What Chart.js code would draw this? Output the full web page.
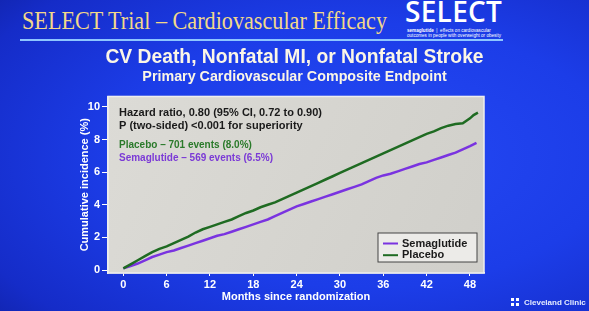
<!DOCTYPE html>
<html><head><meta charset="utf-8">
<script src="https://cdn.jsdelivr.net/npm/chart.js@4.4.1/dist/chart.umd.min.js"></script>
<style>
html,body{margin:0;padding:0;width:589px;height:311px;overflow:hidden;}
body{position:relative;font-family:"Liberation Sans",Arial,sans-serif;
 background:radial-gradient(ellipse 85% 85% at 62% 50%, #2549f4 0%, #1c3de8 50%, #152cc8 85%, #1022a8 100%);}
#slideTitle{position:absolute;left:22px;top:6px;font-family:"Liberation Serif","Times New Roman",serif;font-size:25px;color:#f2d889;white-space:nowrap;line-height:30px;transform:scaleX(0.887);transform-origin:0 0;}
#rule{position:absolute;left:20px;top:39px;width:483px;height:2px;background:#8ec6ff;}
#logo{position:absolute;left:405px;top:-4px;color:#fff;}
#logo .big{font-family:"Open Sans",sans-serif;font-size:28px;font-weight:600;line-height:30px;letter-spacing:0.3px;}
#logo .small{font-family:"Liberation Sans",Arial,sans-serif;font-size:4.6px;line-height:5.2px;white-space:nowrap;margin-left:2px;}
#logo .small.first{margin-top:2px;}
#chartBox{position:absolute;left:0;top:0;width:589px;height:311px;}
#cc{position:absolute;left:511px;top:298px;color:#e6ecff;font-weight:bold;font-size:8px;white-space:nowrap;line-height:10px;}
#cc span.icon{display:inline-block;width:8px;height:8px;background:#fff;vertical-align:-1px;margin-right:5px;position:relative;}
#cc span.icon:before{content:"";position:absolute;left:3px;top:0;width:2px;height:8px;background:#1c3de8;}
#cc span.icon:after{content:"";position:absolute;left:0;top:3px;width:8px;height:2px;background:#1c3de8;}
</style></head>
<body>
<div id="slideTitle">SELECT Trial – Cardiovascular Efficacy</div>
<div id="rule"></div>
<div id="logo"><div class="big">SELECT</div>
<div class="small first"><b>semaglutide</b> &nbsp;|&nbsp; effects on cardiovascular</div>
<div class="small">outcomes in people with overweight or obesity</div></div>
<div id="chartBox"><canvas id="c" width="589" height="311"></canvas></div>
<div id="cc"><span class="icon"></span>Cleveland Clinic</div>
<script>
// ---- data ----
const seriesNames = ['Semaglutide', 'Placebo'];
const semaMonths = [0,1,2,3,4,5,6,7,8,9,10,11,12,13,14,15,16,17,18,19,20,21,22,23,24,25,26,27,28,29,30,31,32,33,34,35,36,37,38,39,40,41,42,43,44,45,46,47,48,48.9];
const semaglutide = [0.1,0.25,0.4,0.6,0.8,0.95,1.1,1.2,1.35,1.5,1.65,1.8,1.95,2.1,2.2,2.35,2.5,2.65,2.8,2.95,3.1,3.3,3.5,3.7,3.9,4.05,4.2,4.35,4.5,4.65,4.8,4.95,5.1,5.25,5.45,5.65,5.8,5.9,6.05,6.2,6.35,6.5,6.6,6.75,6.9,7.05,7.2,7.4,7.6,7.8];
const placeboMonths = [0,1,2,3,4,5,6,7,8,9,10,11,12,13,14,15,16,17,18,19,20,21,22,23,24,25,26,27,28,29,30,31,32,33,34,35,36,37,38,39,40,41,42,43,44,45,46,47,48,48.5,49.1];
const placebo = [0.1,0.35,0.6,0.85,1.1,1.3,1.45,1.65,1.85,2.05,2.3,2.5,2.65,2.8,2.95,3.1,3.3,3.5,3.65,3.85,4.0,4.15,4.35,4.55,4.75,4.95,5.15,5.35,5.55,5.75,5.95,6.15,6.35,6.55,6.75,6.95,7.15,7.35,7.55,7.75,7.95,8.15,8.35,8.5,8.7,8.85,8.95,9.0,9.3,9.5,9.65];
const xTickValues = [0,6,12,18,24,30,36,42,48];
const yTickValues = [0,2,4,6,8,10];
const chartTitle = 'CV Death, Nonfatal MI, or Nonfatal Stroke';
const chartSubtitle = 'Primary Cardiovascular Composite Endpoint';
const xTitle = 'Months since randomization';
const yTitle = 'Cumulative incidence (%)';
const statLines = ['Hazard ratio, 0.80 (95% CI, 0.72 to 0.90)', 'P (two-sided) <0.001 for superiority'];
const eventLines = ['Placebo – 701 events (8.0%)', 'Semaglutide – 569 events (6.5%)'];

const SEMA_COLOR = '#7a33e0';
const PLAC_COLOR = '#1f6b22';
const FONT = '"Liberation Sans", Arial, sans-serif';

const panelPlugin = {
  id: 'panel',
  beforeDatasetsDraw(chart) {
    const {ctx, chartArea: a} = chart;
    ctx.save();
    const g = ctx.createLinearGradient(a.left, a.top, a.right, a.bottom);
    g.addColorStop(0, '#dcdbd6');
    g.addColorStop(1, '#d0cfca');
    ctx.fillStyle = g;
    ctx.fillRect(a.left, a.top, a.right - a.left, a.bottom - a.top);
    ctx.strokeStyle = '#eeeeee';
    ctx.lineWidth = 1.5;
    ctx.strokeRect(a.left, a.top, a.right - a.left, a.bottom - a.top);
    ctx.textBaseline = 'middle';
    ctx.textAlign = 'left';
    ctx.font = 'bold 11px ' + FONT;
    ctx.fillStyle = '#1a1a1a';
    ctx.fillText(statLines[0], a.left + 11, a.top + 17);
    ctx.fillText(statLines[1], a.left + 11, a.top + 29.5);
    ctx.font = 'bold 10px ' + FONT;
    ctx.fillStyle = '#2a7a2a';
    ctx.fillText(eventLines[0], a.left + 11, a.top + 49);
    ctx.fillStyle = '#7b3ad6';
    ctx.fillText(eventLines[1], a.left + 11, a.top + 61.5);
    ctx.restore();
  },
  afterDatasetsDraw(chart) {
    const {ctx, chartArea: a} = chart;
    ctx.save();
    const bx = a.right - 106, by = a.bottom - 40, bw = 99, bh = 29;
    ctx.fillStyle = '#ecebe8';
    ctx.fillRect(bx, by, bw, bh);
    ctx.strokeStyle = '#444';
    ctx.lineWidth = 1;
    ctx.strokeRect(bx, by, bw, bh);
    const items = [chart.data.datasets[1], chart.data.datasets[0]];
    ctx.font = 'bold 11px ' + FONT;
    ctx.textBaseline = 'middle';
    items.forEach((ds, i) => {
      const y = by + 10.5 + i * 11.7;
      ctx.strokeStyle = ds.borderColor;
      ctx.lineWidth = 2;
      ctx.beginPath(); ctx.moveTo(bx + 5, y); ctx.lineTo(bx + 20, y); ctx.stroke();
      ctx.fillStyle = '#1a1a1a';
      ctx.fillText(ds.label, bx + 24, y);
    });
    ctx.restore();
  }
};

new Chart(document.getElementById('c'), {
  type: 'line',
  data: {
    datasets: [
      {label: seriesNames[1], data: placeboMonths.map((m, i) => ({x: m, y: placebo[i]})), borderColor: PLAC_COLOR, borderWidth: 2.5, pointRadius: 0, tension: 0, yAxisID: 'y'},
      {label: seriesNames[0], data: semaMonths.map((m, i) => ({x: m, y: semaglutide[i]})), borderColor: SEMA_COLOR, borderWidth: 2.5, pointRadius: 0, tension: 0, yAxisID: 'y'}
    ]
  },
  options: {
    responsive: false,
    animation: false,
    devicePixelRatio: 1,
    layout: {padding: {left: 0, right: 0, top: 47.5, bottom: 0}},
    plugins: {
      legend: {display: false},
      tooltip: {enabled: false},
      title: {display: true, text: chartTitle, color: '#fbf6e6', font: {family: FONT, size: 19.3, weight: 'bold', lineHeight: 1.1}, padding: {top: 0, bottom: 0}},
      subtitle: {display: true, text: chartSubtitle, color: '#fbf6e6', font: {family: FONT, size: 14.3, weight: 'bold', lineHeight: 1.1}, padding: {top: 0, bottom: 12}}
    },
    scales: {
      x: {
        type: 'linear', min: -2.12, max: 49.94,
        afterFit: s => { s.height = 38; },
        afterBuildTicks: s => { s.ticks = xTickValues.map(v => ({value: v})); },
        grid: {display: true, drawOnChartArea: false, drawTicks: true, tickLength: 3, color: '#ffffff'},
        border: {display: true, color: '#eeeeee', width: 1.5},
        ticks: {color: '#ffffff', padding: 2, font: {family: FONT, size: 11, weight: 'bold'}, maxRotation: 0},
        title: {display: true, text: xTitle, color: '#ffffff', font: {family: FONT, size: 11, weight: 'bold'}, padding: {top: 0, bottom: 7.4}}
      },
      y: {
        type: 'linear', position: 'left', min: -0.18, max: 10.64,
        afterFit: s => { s.width = 108; },
        afterBuildTicks: s => { s.ticks = yTickValues.map(v => ({value: v})); },
        grid: {display: true, drawOnChartArea: false, drawTicks: true, tickLength: 6, color: '#ffffff'},
        border: {display: true, color: '#eeeeee', width: 1.5},
        ticks: {color: '#ffffff', padding: 2, font: {family: FONT, size: 11, weight: 'bold'}},
        title: {display: true, text: yTitle, color: '#ffffff', font: {family: FONT, size: 11, weight: 'bold'}, padding: {top: 78.4, bottom: 0}}
      },
      yRight: {
        type: 'linear', position: 'right', min: -0.18, max: 10.64,
        afterFit: s => { s.width = 105; },
        grid: {display: false}, border: {display: false}, ticks: {display: false}
      }
    }
  },
  plugins: [panelPlugin]
});
</script>
</body></html>
